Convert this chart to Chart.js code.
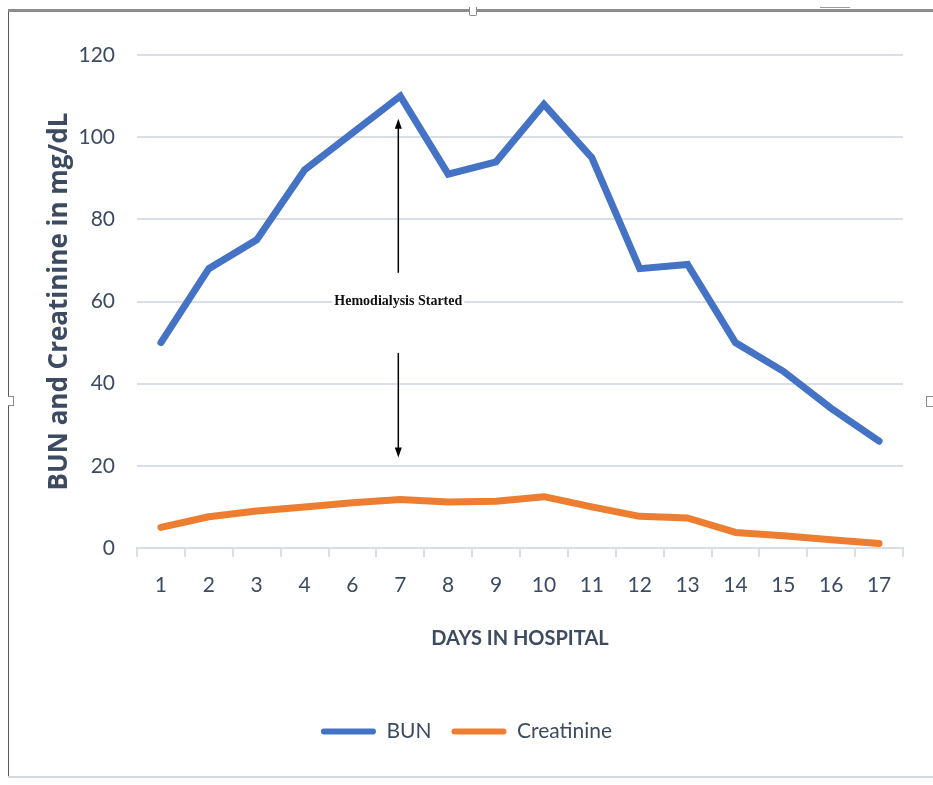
<!DOCTYPE html>
<html>
<head>
<meta charset="utf-8">
<title>BUN and Creatinine</title>
<script src="https://cdn.jsdelivr.net/npm/chart.js@4.4.0/dist/chart.umd.min.js"></script>
<style>
  html, body { margin: 0; padding: 0; background: #fff; }
  .page { position: relative; width: 933px; height: 785px; overflow: hidden; }
  #labChart { position: absolute; left: 0; top: 0; }
  /* document frame around the figure */
  .edge { position: absolute; background: #8c8c8c; }
  .edge.top { left: 8px; top: 9px; width: 925px; height: 3px; }
  .edge.left { left: 8px; top: 12px; width: 1px; height: 766px; background: #5a5a5a; }
  .edge.bottom { left: 8px; top: 776px; width: 925px; height: 2px; background: #d6d9de; }
  .grip { position: absolute; background: #fff; border: 1px solid #8c8c8c; }
  .grip.mid { left: 469px; top: 7px; width: 6px; height: 8px; border-top: none; border-radius: 0 0 2px 2px; }
  .grip.l { left: 8px; top: 396px; width: 5px; height: 8px; border-left: none; }
  .grip.r { left: 926px; top: 396px; width: 6px; height: 9px; border-right: none; }
  .mark { position: absolute; left: 820px; top: 7px; width: 30px; height: 1px; background: #9a9a9a; }
</style>
</head>
<body>
<div class="page">
  <div class="edge top"></div>
  <div class="edge left"></div>
  <div class="edge bottom"></div>
  <div class="grip mid"></div>
  <div class="grip l"></div>
  <div class="grip r"></div>
  <div class="mark"></div>
  <canvas id="labChart" width="933" height="785"></canvas>
</div>
<script>
// days on the ward (no sample on day 5)
const days = ['1', '2', '3', '4', '6', '7', '8', '9', '10', '11', '12', '13', '14', '15', '16', '17'];
const bunValues = [50, 68, 75, 92, 101, 110, 91, 94, 108, 95, 68, 69, 50, 43, 34, 26];
const creatinineValues = [5, 7.6, 9, 10, 11, 11.8, 11.2, 11.4, 12.5, 10, 7.7, 7.3, 3.8, 3, 2, 1.1];
const yTicks = [0, 20, 40, 60, 80, 100, 120];

// note about the start of dialysis
const noteDay = '7';
const noteText = 'Hemodialysis Started';
const noteValue = 60;
const arrowUp = [67, 104.5];
const arrowDown = [47.5, 22];

const textColor = '#3d4b62';
const gridColor = '#d9dee6';

function drawArrow(ctx, x, y1, y2) {
  const dir = y2 < y1 ? 1 : -1;
  ctx.beginPath();
  ctx.moveTo(x, y1);
  ctx.lineTo(x, y2 + dir * 8);
  ctx.stroke();
  ctx.beginPath();
  ctx.moveTo(x, y2);
  ctx.lineTo(x - 3.5, y2 + dir * 10);
  ctx.lineTo(x + 3.5, y2 + dir * 10);
  ctx.closePath();
  ctx.fill();
}

const dialysisNote = {
  id: 'dialysisNote',
  afterDatasetsDraw(chart) {
    const {ctx, scales: {x, y}} = chart;
    const px = x.getPixelForValue(days.indexOf(noteDay)) - 2;
    ctx.save();
    ctx.strokeStyle = '#000';
    ctx.fillStyle = '#000';
    ctx.lineWidth = 1.5;
    drawArrow(ctx, px, y.getPixelForValue(arrowUp[0]), y.getPixelForValue(arrowUp[1]));
    drawArrow(ctx, px, y.getPixelForValue(arrowDown[0]), y.getPixelForValue(arrowDown[1]));

    ctx.font = 'bold 14px "Liberation Serif", "Times New Roman", serif';
    ctx.textAlign = 'center';
    ctx.textBaseline = 'middle';
    const ty = y.getPixelForValue(noteValue);
    const w = ctx.measureText(noteText).width;
    ctx.fillStyle = '#fff';
    ctx.fillRect(px - w / 2 - 2, ty - 9, w + 4, 18);
    ctx.fillStyle = '#111';
    ctx.fillText(noteText, px, ty);
    ctx.restore();
  }
};

const ctx = document.getElementById('labChart');

new Chart(ctx, {
  type: 'line',
  data: {
    labels: days,
    datasets: [
      {
        label: 'BUN',
        data: bunValues,
        borderColor: '#4472c4',
        backgroundColor: '#4472c4',
        borderWidth: 7,
        borderJoinStyle: 'miter',
        borderCapStyle: 'round',
        pointRadius: 0,
        tension: 0
      },
      {
        label: 'Creatinine',
        data: creatinineValues,
        borderColor: '#ed7d31',
        backgroundColor: '#ed7d31',
        borderWidth: 7,
        borderJoinStyle: 'round',
        borderCapStyle: 'round',
        pointRadius: 0,
        tension: 0
      }
    ]
  },
  options: {
    responsive: false,
    animation: false,
    events: [],
    layout: {
      padding: {top: 55, left: 30, right: 30, bottom: 33}
    },
    scales: {
      x: {
        offset: true,
        afterFit(scale) {
          scale.height = 153;
        },
        grid: {
          offset: true,
          drawOnChartArea: false,
          drawTicks: true,
          tickLength: 9,
          color: gridColor,
          lineWidth: 2
        },
        border: {color: gridColor, width: 2},
        ticks: {
          color: textColor,
          padding: 16,
          maxRotation: 0,
          font: {family: 'Lato', size: 21}
        },
        title: {
          display: true,
          text: 'DAYS IN HOSPITAL',
          color: textColor,
          padding: {top: 30, bottom: 50},
          font: {family: 'Lato', size: 20, weight: 'bold'}
        }
      },
      y: {
        min: 0,
        max: 120,
        afterBuildTicks(scale) {
          scale.ticks = yTicks.map(v => ({value: v}));
        },
        afterFit(scale) {
          scale.width = 107;
        },
        grid: {
          color: gridColor,
          lineWidth: 2,
          drawTicks: false
        },
        border: {display: false},
        ticks: {
          color: textColor,
          padding: 22,
          font: {family: 'Lato', size: 21}
        },
        title: {
          display: true,
          text: 'BUN and Creatinine in mg/dL',
          color: textColor,
          padding: {top: 14, bottom: 0},
          font: {family: 'Open Sans', size: 26, weight: 'bold'}
        }
      }
    },
    plugins: {
      legend: {
        position: 'bottom',
        labels: {
          color: textColor,
          font: {family: 'Lato', size: 21},
          boxWidth: 55,
          boxHeight: 6,
          padding: 20,
          useBorderRadius: true,
          borderRadius: 3,
          generateLabels(chart) {
            const items = Chart.defaults.plugins.legend.labels.generateLabels(chart);
            return items.map(item => Object.assign(item, {fillStyle: item.strokeStyle, lineWidth: 0}));
          }
        }
      },
      tooltip: {enabled: false}
    }
  },
  plugins: [dialysisNote]
});
</script>
</body>
</html>
